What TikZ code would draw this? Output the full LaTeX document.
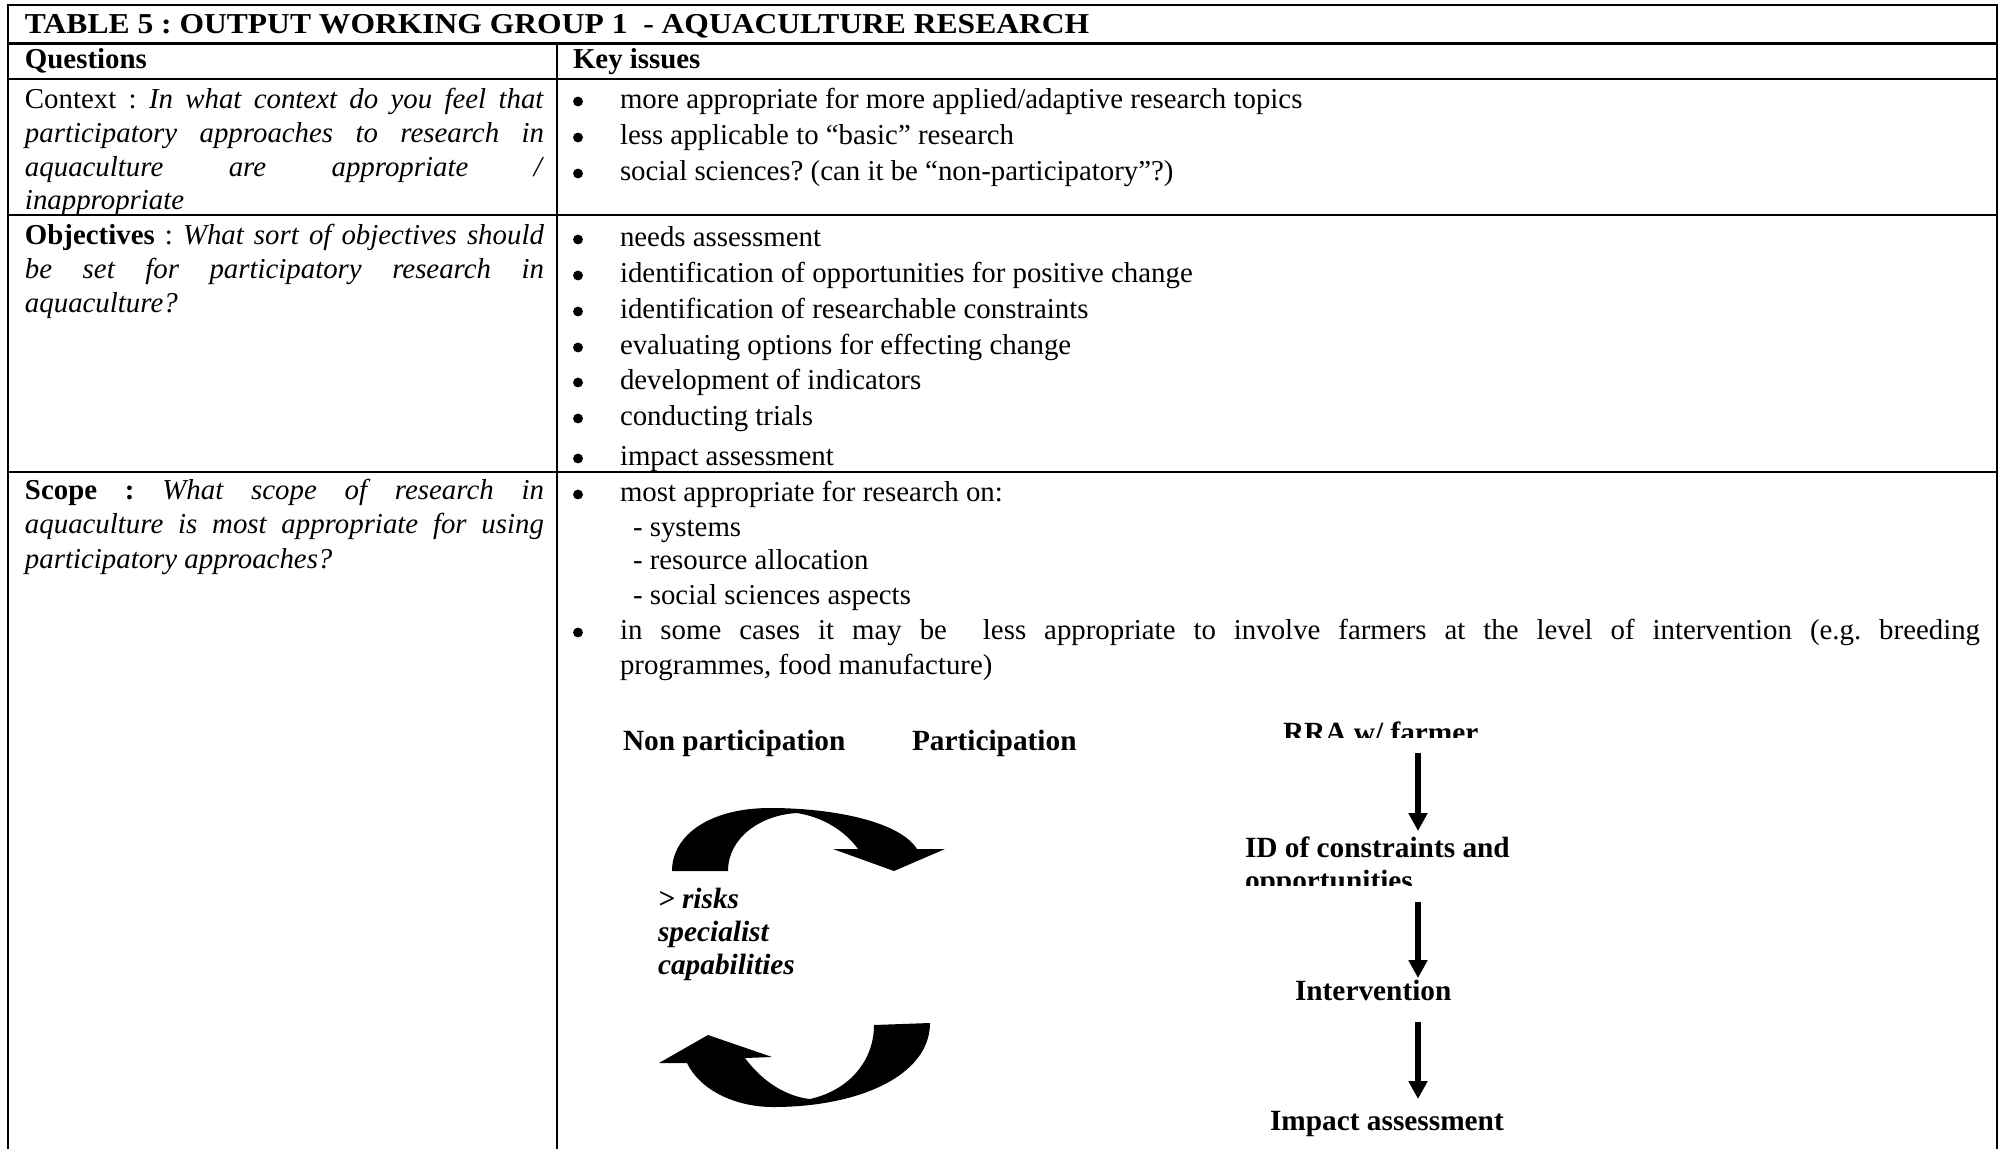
\documentclass[tikz,border=0pt]{standalone}
\usepackage{fontspec}
\setmainfont{Liberation Serif}
\usetikzlibrary{arrows.meta}
\newlength\pxu
\setlength\pxu{0.416pt}
\newcommand\jline[2]{\makebox[#1\pxu][s]{#2}}
\frenchspacing
\begin{document}
\begin{tikzpicture}[x=0.416pt,y=-0.416pt,
  rule/.style={line width=1.1pt},
  txt/.style={anchor=base west,inner sep=0pt,outer sep=0pt,font=\fontsize{12pt}{14pt}\selectfont},
  bul/.style={circle,fill=black,inner sep=0pt,outer sep=0pt,minimum size=4.1pt},
  dtxt/.style={anchor=base west,inner sep=0pt,outer sep=0pt,font=\fontsize{12.2pt}{14pt}\selectfont\bfseries},
  flow/.style={line width=2.85pt,-{Triangle[length=7.4pt,width=7.5pt]}},
  band/.style={fill=black}
]
\useasboundingbox[fill=white] (0,0) rectangle (2002,1149);
\newcommand\bitem[3]{\node[bul] (#1b) at (578,#2-6.5) {}; \node[txt] (#1) at (620,#2) {#3};}

% table rules
\draw[rule,line join=miter] (8,1149) -- (8,5) -- (1997,5) -- (1997,1149);
\draw[rule] (8,43.5) -- (1997,43.5);
\draw[rule] (8,79) -- (1997,79);
\draw[rule] (8,215) -- (1997,215);
\draw[rule] (8,472) -- (1997,472);
\draw[rule] (557,43.5) -- (557,1149);

% title and header
\node[txt,font=\fontsize{12pt}{14pt}\selectfont\bfseries] (title) at (25,33) {\scalebox{1.094}[1]{TABLE 5 : OUTPUT WORKING GROUP 1\ \ - AQUACULTURE RESEARCH}};
\node[txt,font=\fontsize{12pt}{14pt}\selectfont\bfseries] (hq) at (25,68) {Questions};
\node[txt,font=\fontsize{12pt}{14pt}\selectfont\bfseries] (hk) at (573,68) {Key issues};

% context row
\node[txt] (c1) at (25,108) {\jline{519}{Context : \textit{In what context do you feel that}}};
\node[txt] (c2) at (25,142) {\jline{519}{\textit{participatory approaches to research in}}};
\node[txt] (c3) at (25,176) {\jline{519}{\textit{aquaculture are appropriate /}}};
\node[txt] (c4) at (25,209) {\textit{inappropriate}};
\bitem{k1}{108}{more appropriate for more applied/adaptive research topics}
\bitem{k2}{144}{less applicable to “basic” research}
\bitem{k3}{180}{social sciences? (can it be “non-participatory”?)}

% objectives row
\node[txt] (o1) at (25,244) {\jline{519}{\textbf{Objectives} : \textit{What sort of objectives should}}};
\node[txt] (o2) at (25,278) {\jline{519}{\textit{be set for participatory research in}}};
\node[txt] (o3) at (25,312) {\textit{aquaculture?}};
\bitem{p1}{246}{needs assessment}
\bitem{p2}{282}{identification of opportunities for positive change}
\bitem{p3}{318}{identification of researchable constraints}
\bitem{p4}{354}{evaluating options for effecting change}
\bitem{p5}{389}{development of indicators}
\bitem{p6}{425}{conducting trials}
\bitem{p7}{465}{impact assessment}

% scope row
\node[txt] (s1) at (25,499) {\jline{519}{\textbf{Scope :} \textit{What scope of research in}}};
\node[txt] (s2) at (25,533) {\jline{519}{\textit{aquaculture is most appropriate for using}}};
\node[txt] (s3) at (25,568) {\textit{participatory approaches?}};
\bitem{q1}{501}{most appropriate for research on:}
\node[txt] (q1a) at (633,536) {- systems};
\node[txt] (q1b) at (633,569) {- resource allocation};
\node[txt] (q1c) at (633,604) {- social sciences aspects};
\bitem{q2}{639}{\jline{1360}{in some cases it may be\ \ less appropriate to involve farmers at the level of intervention (e.g. breeding}}
\node[txt] (q2b) at (620,674) {programmes, food manufacture)};

% left diagram
\node[dtxt] (np) at (623,750) {Non participation};
\node[dtxt] (pa) at (912,750) {Participation};
\node[dtxt,font=\fontsize{12.2pt}{14pt}\selectfont\bfseries\itshape] (r1) at (658,908) {> risks};
\node[dtxt,font=\fontsize{12.2pt}{14pt}\selectfont\bfseries\itshape] (r2) at (658,941) {specialist};
\node[dtxt,font=\fontsize{12.2pt}{14pt}\selectfont\bfseries\itshape] (r3) at (658,974) {capabilities};

\fill[band] (672,871) .. controls (672,835) and (710,808) .. (770,808)
  .. controls (835,808) and (900,822) .. (917,849)
  -- (945,849) -- (894,871) -- (833,849) -- (858,849)
  .. controls (848,835) and (828,818) .. (797,813)
  .. controls (760,815) and (728,838) .. (728,871) -- cycle;
\fill[band] (930,1023) .. controls (930,1075) and (860,1107) .. (773,1107)
  .. controls (735,1107) and (700,1090) .. (687,1063)
  -- (659,1063) -- (708,1035) -- (772,1057) -- (745,1058)
  .. controls (765,1085) and (790,1097) .. (810,1099)
  .. controls (850,1090) and (874,1060) .. (874,1025) -- cycle;

% right diagram
\begin{scope}
  \clip (1200,690) rectangle (1600,737);
  \node[dtxt] (rra) at (1283,742) {RRA w/ farmer};
\end{scope}
\node[dtxt] (id) at (1245,857) {ID of constraints and};
\begin{scope}
  \clip (1200,860) rectangle (1600,885);
  \node[dtxt] (opp) at (1245,890) {opportunities};
\end{scope}
\node[dtxt] (int) at (1295,1000) {Intervention};
\node[dtxt] (imp) at (1270,1130) {Impact assessment};

\coordinate (a1s) at (1418,753); \coordinate (a1e) at (1418,831);
\coordinate (a2s) at (1418,902); \coordinate (a2e) at (1418,978);
\coordinate (a3s) at (1418,1022); \coordinate (a3e) at (1418,1099);
\draw[flow] (a1s) -- (a1e);
\draw[flow] (a2s) -- (a2e);
\draw[flow] (a3s) -- (a3e);
\end{tikzpicture}
\end{document}
